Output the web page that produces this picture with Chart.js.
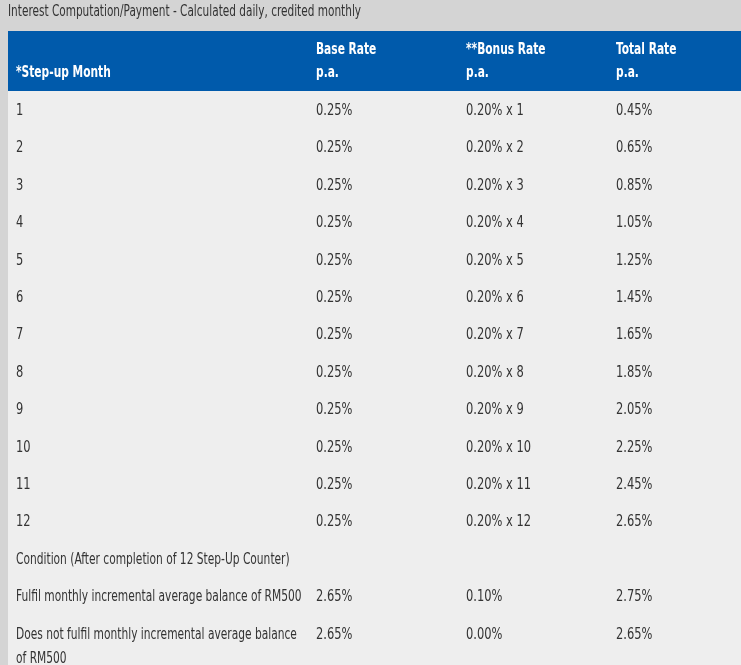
<!DOCTYPE html>
<html>
<head>
<meta charset="utf-8">
<script src="https://cdn.jsdelivr.net/npm/chart.js@4.4.1/dist/chart.umd.min.js"></script>
<style>
  html, body { margin: 0; padding: 0; background: #d4d4d4; }
  #wrap { width: 741px; height: 665px; position: relative; }
</style>
</head>
<body>
<div id="wrap"><canvas id="rateTable"></canvas></div>
<script>
/* --------------------------
   TABLE DATA
--------------------------- */
const titleText = "Interest Computation/Payment - Calculated daily, credited monthly";

const headers = [
    ["", "*Step-up Month"],
    ["Base Rate", "p.a."],
    ["**Bonus Rate", "p.a."],
    ["Total Rate", "p.a."]
];

const months = [1, 2, 3, 4, 5, 6, 7, 8, 9, 10, 11, 12];
const baseRates = [0.25, 0.25, 0.25, 0.25, 0.25, 0.25, 0.25, 0.25, 0.25, 0.25, 0.25, 0.25];
const bonusRate = 0.20;
const totalRates = [0.45, 0.65, 0.85, 1.05, 1.25, 1.45, 1.65, 1.85, 2.05, 2.25, 2.45, 2.65];

// after the 12 step-up months
const conditionLabels = [
    ["Condition (After completion of 12 Step-Up Counter)"],
    ["Fulfil monthly incremental average balance of RM500"],
    ["Does not fulfil monthly incremental average balance", "of RM500"]
];
const conditionBase = [null, 2.65, 2.65];
const conditionBonus = [null, 0.10, 0.00];
const conditionTotal = [null, 2.75, 2.65];

/* --------------------------
   LAYOUT / STYLE
--------------------------- */
const colStart = [0, 2, 3, 4];       // column starts, in 150px units
const xMax = 733 / 150;              // last column is cut by the viewport
const FONT = "'DejaVu Sans Condensed', 'DejaVu Sans', sans-serif";
const BLUE = '#005aab';
const ROW_BG = '#eeeeee';
const TEXT = '#333333';

const pct = v => v === null ? "" : v.toFixed(2) + "%";

const rowLabels = months.map(String).concat(conditionLabels.map((l, i) => "c" + i));

const cells = [
    months.map(m => [String(m)]).concat(conditionLabels),
    baseRates.map(v => [pct(v)]).concat(conditionBase.map(v => [pct(v)])),
    months.map(m => [pct(bonusRate) + " x " + m]).concat(conditionBonus.map(v => [pct(v)])),
    totalRates.map(v => [pct(v)]).concat(conditionTotal.map(v => [pct(v)]))
];

// squeeze text a bit, the original face is narrower than DejaVu Condensed
function squeezeText(ctx, text, x, y, factor) {
    if (!text) return;
    const w = ctx.measureText(text).width;
    ctx.fillText(text, x, y, w * factor);
}
const bodySqueeze = t => /^[0-9.%x ]+$/.test(t) ? 0.85 : 0.79;

/* --------------------------
   DRAWING PLUGIN
--------------------------- */
const tablePlugin = {
    id: 'tablePlugin',
    beforeDraw(chart) {
        const { ctx, chartArea: a, width, height } = chart;
        ctx.save();
        ctx.fillStyle = '#d4d4d4';
        ctx.fillRect(0, 0, width, height);
        ctx.fillStyle = ROW_BG;
        ctx.fillRect(a.left, a.top, a.right - a.left, height - a.top);
        ctx.fillStyle = BLUE;
        ctx.fillRect(a.left, a.top - 60, a.right - a.left, 60);

        // title
        ctx.fillStyle = TEXT;
        ctx.font = "15px " + FONT;
        ctx.textBaseline = 'middle';
        squeezeText(ctx, titleText, a.left, 12.5, 0.78);

        // header text
        ctx.fillStyle = '#ffffff';
        ctx.font = "bold 15px " + FONT;
        headers.forEach((h, c) => {
            const x = chart.scales.x.getPixelForValue(colStart[c]) + 8;
            squeezeText(ctx, h[0], x, a.top - 41, 0.79);
            squeezeText(ctx, h[1], x, a.top - 17.5, 0.79);
        });
        ctx.restore();
    },
    afterDatasetsDraw(chart) {
        const ctx = chart.ctx;
        ctx.save();
        ctx.fillStyle = TEXT;
        ctx.font = "15px " + FONT;
        ctx.textBaseline = 'middle';
        chart.data.datasets.forEach((ds, i) => {
            chart.getDatasetMeta(i).data.forEach((pt, j) => {
                ds.cells[j].forEach((line, k) => {
                    squeezeText(ctx, line, pt.x + 8, pt.y + 1.5 + k * 24, bodySqueeze(line));
                });
            });
        });
        ctx.restore();
    }
};

/* --------------------------
   CHART
--------------------------- */
Chart.defaults.font.family = FONT;

const tableCtx = document.getElementById('rateTable').getContext('2d');

const rateTable = new Chart(tableCtx, {
    type: 'scatter',
    data: {
        datasets: cells.map((col, c) => ({
            data: rowLabels.map(r => ({ x: colStart[c], y: r })),
            cells: col,
            pointRadius: 0
        }))
    },
    options: {
        responsive: true,
        maintainAspectRatio: false,
        animation: false,
        layout: { padding: { left: 8, right: 0, top: 91, bottom: 13 } },
        scales: {
            x: { type: 'linear', min: 0, max: xMax, display: false },
            y: { type: 'category', labels: rowLabels, offset: true, display: false }
        },
        plugins: {
            legend: { display: false },
            tooltip: { enabled: false },
            title: { display: false }
        }
    },
    plugins: [tablePlugin]
});
</script>
</body>
</html>
